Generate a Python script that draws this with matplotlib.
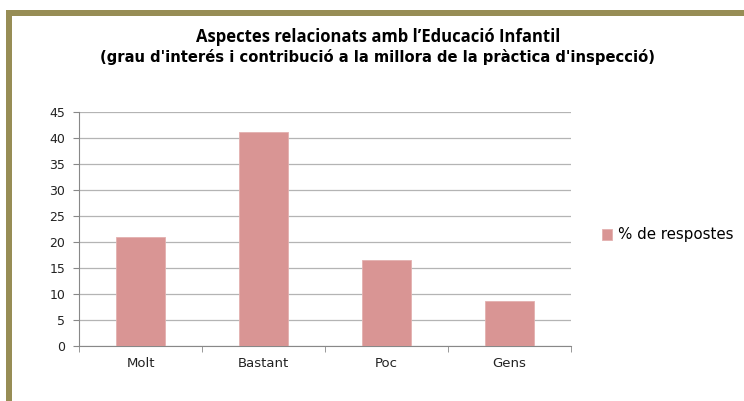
import matplotlib.pyplot as plt
from matplotlib.patches import Rectangle
import numpy as np

categories = ['Molt', 'Bastant', 'Poc', 'Gens']
values = [21.0, 41.2, 16.6, 8.7]
series_name = '% de respostes'
yticks = [0, 5, 10, 15, 20, 25, 30, 35, 40, 45]

fig = plt.figure(figsize=(7.44, 4.01), dpi=100)
fig.patch.set_facecolor('white')

# olive frame around the chart (runs off right and bottom)
fig.patches.append(Rectangle((9 / 744, -0.1), 1.2, 1.1 - 13 / 401,
                             transform=fig.transFigure, fill=False,
                             edgecolor='#978d55', linewidth=6 * 0.72))

ax = fig.add_axes([79 / 744, 1 - 346 / 401, (571 - 79) / 744, (346 - 112) / 401])
x = np.arange(len(categories))
ax.bar(x, values, width=0.4, color='#d99594', edgecolor='#e3b0af', linewidth=0.6,
       label=series_name, zorder=3)

ax.set_xlim(-0.5, len(categories) - 0.5)
ax.set_ylim(0, 45)
ax.set_yticks(yticks)
ax.set_yticklabels([str(t) for t in yticks], fontsize=9, family='DejaVu Sans', color='#222222')
ax.set_xticks(x)
ax.set_xticklabels(categories, fontsize=9.5, family='DejaVu Sans', color='#222222')
ax.tick_params(axis='x', length=0, pad=8)
ax.tick_params(axis='y', length=4, color='#888888', pad=6)
# category boundary ticks
ax.set_xticks(np.arange(-0.5, len(categories), 1), minor=True)
ax.tick_params(axis='x', which='minor', length=4, color='#888888')

ax.grid(axis='y', color='#b4b4b4', linewidth=0.9, zorder=0)
for s in ['top', 'right']:
    ax.spines[s].set_visible(False)
ax.spines['left'].set_color('#888888')
ax.spines['bottom'].set_color('#888888')

fig.text(378 / 744, 1 - 37 / 401, 'Aspectes relacionats amb l\u2019Educació Infantil',
         ha='center', va='center', fontsize=12, fontweight='bold', family='Open Sans')
fig.text(378 / 744, 1 - 57 / 401,
         "(grau d'interés i contribució a la millora de la pràctica d'inspecció)",
         ha='center', va='center', fontsize=10.6, fontweight='bold', family='DejaVu Sans')

fig.legend(loc='center left', bbox_to_anchor=(588 / 744, 1 - 235 / 401), frameon=False,
           prop={'family': 'DejaVu Sans', 'size': 10.8}, handlelength=0.7, handleheight=0.7,
           handletextpad=0.4)

fig.savefig('out.png', dpi=100)
